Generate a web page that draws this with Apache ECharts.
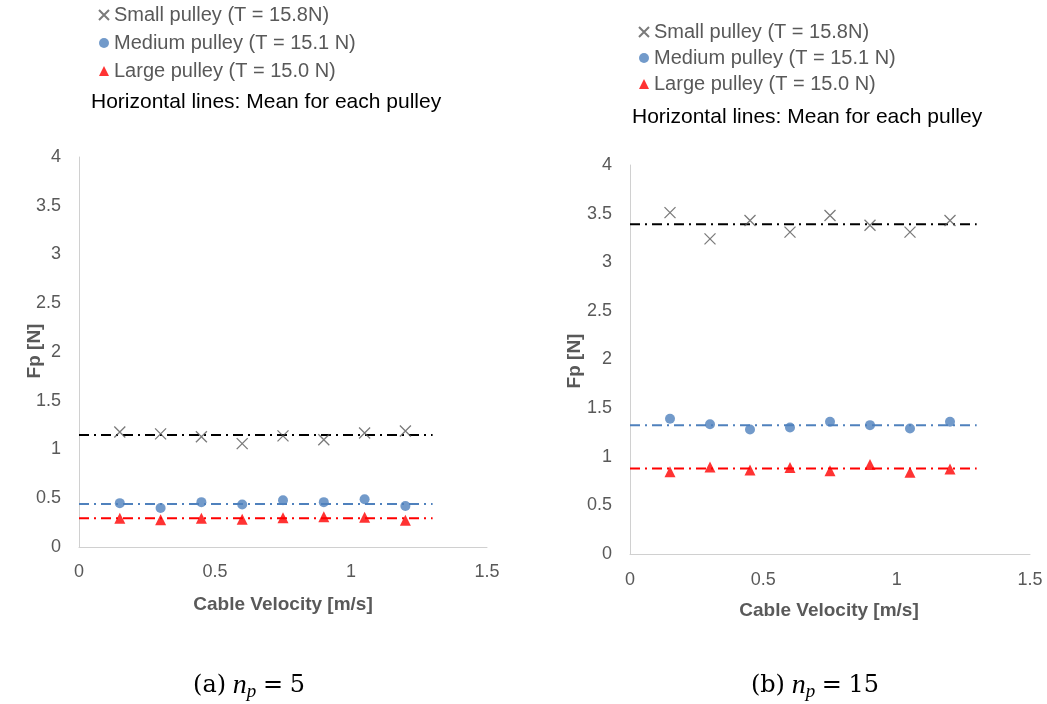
<!DOCTYPE html>
<html><head><meta charset="utf-8">
<script src="https://cdn.jsdelivr.net/npm/echarts@6/dist/echarts.min.js"></script>
<style>html,body{margin:0;padding:0;background:#fff}#c{width:1047px;height:704px}</style>
</head><body><div id="c"></div>
<script>
// ---- data ----
const velocity = [0.15, 0.3, 0.45, 0.6, 0.75, 0.9, 1.05, 1.2];
const xTicks = [0, 0.5, 1, 1.5];
const yTicks = [0, 0.5, 1, 1.5, 2, 2.5, 3, 3.5, 4];
const seriesNames = ['Small pulley (T = 15.8N)', 'Medium pulley (T = 15.1 N)', 'Large pulley (T = 15.0 N)'];
// (a) n_p = 5
const aSmall  = [1.18, 1.16, 1.13, 1.06, 1.14, 1.10, 1.17, 1.19];
const aMedium = [0.45, 0.40, 0.46, 0.435, 0.48, 0.46, 0.49, 0.42];
const aLarge  = [0.295, 0.28, 0.295, 0.285, 0.30, 0.31, 0.305, 0.275];
const aMeans  = [1.15, 0.44, 0.295];
// (b) n_p = 15
const bSmall  = [3.51, 3.24, 3.43, 3.31, 3.48, 3.38, 3.31, 3.43];
const bMedium = [1.39, 1.335, 1.28, 1.30, 1.36, 1.325, 1.29, 1.36];
const bLarge  = [0.845, 0.895, 0.865, 0.89, 0.855, 0.92, 0.84, 0.875];
const bMeans  = [3.39, 1.325, 0.88];
const meanLineX = [0, 1.3];

// ---- styles ----
const FONT = '"Liberation Sans", Arial, sans-serif';
const GREY = '#595959';
const crossPath = 'path://M0,0L10,10M10,0L0,10';
const markerStyles = [
  {symbol: crossPath, symbolSize: 11, itemStyle: {color: 'rgba(0,0,0,0)', borderColor: GREY, borderWidth: 1.3}},
  {symbol: 'circle', symbolSize: 10, itemStyle: {color: '#4f81bd'}},
  {symbol: 'triangle', symbolSize: 11, itemStyle: {color: '#ff0000'}}
];
const lineColors = ['#000000', '#4f81bd', '#ff0000'];

function pts(vals) { return velocity.map((v, i) => [v, vals[i]]); }

function axes(idx, xMargin) {
  return {
    x: {type: 'value', gridIndex: idx, min: xTicks[0], max: xTicks[xTicks.length-1], interval: xTicks[1]-xTicks[0],
        axisLine: {show: true, lineStyle: {color: '#d0d0d0', width: 1}}, axisTick: {show: false}, splitLine: {show: false},
        axisLabel: {color: GREY, fontSize: 18, fontFamily: FONT, margin: xMargin}},
    y: {type: 'value', gridIndex: idx, min: yTicks[0], max: yTicks[yTicks.length-1], interval: yTicks[1]-yTicks[0],
        axisLine: {show: true, lineStyle: {color: '#d0d0d0', width: 1}}, axisTick: {show: false}, splitLine: {show: false},
        axisLabel: {color: GREY, fontSize: 18, fontFamily: FONT, margin: 18}}
  };
}
const a0 = axes(0, 16), a1 = axes(1, 17);

const series = [];
[[aSmall, aMedium, aLarge, aMeans, 0], [bSmall, bMedium, bLarge, bMeans, 1]].forEach(([s, m, l, means, g]) => {
  [s, m, l].forEach((vals, k) => {
    series.push(Object.assign({type: 'scatter', name: seriesNames[k], xAxisIndex: g, yAxisIndex: g, data: pts(vals), z: 3}, markerStyles[k]));
  });
  means.forEach((mv, k) => {
    series.push({type: 'line', xAxisIndex: g, yAxisIndex: g, showSymbol: false, silent: true, z: 2,
      data: meanLineX.map(x => [x, mv]),
      lineStyle: {color: lineColors[k], width: 2, type: [10, 5, 2, 5]}});
  });
});

function legend(left, top, gap) {
  return {orient: 'vertical', left: left, top: top, itemGap: gap, itemWidth: 10, itemHeight: 10, selectedMode: false,
    data: seriesNames, textStyle: {color: GREY, fontSize: 20, fontFamily: FONT, lineHeight: 20}};
}
const capRich = {
  r: {fontFamily: '"DejaVu Serif", "Liberation Serif", serif', fontSize: 24, fill: '#000'},
  i: {fontFamily: '"Liberation Serif", serif', fontStyle: 'italic', fontSize: 28, fill: '#000'},
  s: {fontFamily: '"Liberation Serif", serif', fontStyle: 'italic', fontSize: 19, fill: '#000', padding: [11, 0, 0, 0]}
};
function axisTitle(x, y, text, rot) {
  return {type: 'text', x: x, y: y, rotation: rot || 0,
    style: {text: text, fill: GREY, font: 'bold 19px ' + FONT, textAlign: 'center', textVerticalAlign: 'middle'}};
}

const chart = echarts.init(document.getElementById('c'), null, {renderer: 'canvas'});
chart.setOption({
  animation: false,
  backgroundColor: '#fff',
  grid: [
    {left: 79, right: 560, top: 157, bottom: 157},
    {left: 630, right: 17, top: 165, bottom: 150}
  ],
  xAxis: [a0.x, a1.x],
  yAxis: [a0.y, a1.y],
  legend: [legend(93, 0, 8), legend(633, 17, 6)],
  series: series,
  graphic: [
    {type: 'text', x: 91, y: 102, style: {text: 'Horizontal lines: Mean for each pulley', fill: '#000', font: '21px ' + FONT, textVerticalAlign: 'middle'}},
    {type: 'text', x: 632, y: 117, style: {text: 'Horizontal lines: Mean for each pulley', fill: '#000', font: '21px ' + FONT, textVerticalAlign: 'middle'}},
    axisTitle(35, 351, 'Fp [N]', Math.PI / 2),
    axisTitle(575, 361, 'Fp [N]', Math.PI / 2),
    axisTitle(283, 605, 'Cable Velocity [m/s]'),
    axisTitle(829, 611, 'Cable Velocity [m/s]'),
    {type: 'text', x: 249, y: 686, style: {text: '{r|(a)}  {i|n}{s|p}  {r|=}  {r|5}', rich: capRich, textAlign: 'center', textVerticalAlign: 'middle'}},
    {type: 'text', x: 815, y: 686, style: {text: '{r|(b)}  {i|n}{s|p}  {r|=}  {r|15}', rich: capRich, textAlign: 'center', textVerticalAlign: 'middle'}}
  ]
});
</script></body></html>
